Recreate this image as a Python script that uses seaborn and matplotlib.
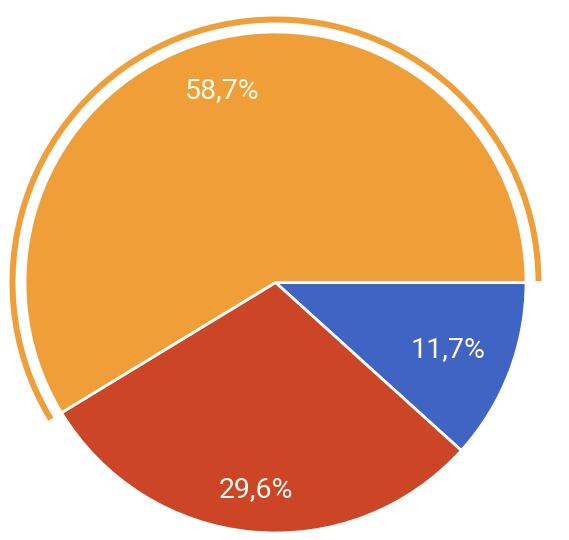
import numpy as np
import matplotlib
matplotlib.use("Agg")
import matplotlib.pyplot as plt
from matplotlib.patches import Wedge
import seaborn as sns

# Slice data (clockwise from 3 o'clock)
categories = ["Blue", "Red", "Orange"]
shares = [11.7, 29.6, 58.7]
pct_labels = ["11,7%", "29,6%", "58,7%"]
colors = ["#3F64C4", "#CB4526", "#EF9E38"]

sns.set_theme(style="white")
plt.rcParams["font.family"] = ["Roboto", "DejaVu Sans"]

fig = plt.figure(figsize=(5.69, 5.40), dpi=100)
ax = fig.add_axes([0, 0, 1, 1])

center = (275.5, 257.5)
radius = 250.5

wedges, texts = ax.pie(
    shares,
    colors=colors,
    startangle=0,
    counterclock=False,
    center=center,
    radius=radius,
    wedgeprops=dict(edgecolor="white", linewidth=2),
    frame=True,
)
ax.set_xlim(0, 569)
ax.set_ylim(0, 540)
ax.set_aspect("equal")
ax.axis("off")

# label placement, fraction of radius for each slice
label_r = [0.74, 0.83, 0.795]
for w, lab, lr in zip(wedges, pct_labels, label_r):
    mid = np.deg2rad((w.theta1 + w.theta2) / 2)
    ax.text(center[0] + lr * radius * np.cos(mid),
            center[1] + lr * radius * np.sin(mid),
            lab, ha="center", va="center", color="#FFF9EE", fontsize=20.5)

# highlight ring around the largest slice
i_big = int(np.argmax(shares))
big = wedges[i_big]
ax.add_patch(Wedge(center, 266, big.theta1 + 0.3, big.theta2, width=6,
                   facecolor=colors[i_big], edgecolor="none"))

fig.savefig("out.png", dpi=100, facecolor="white")
